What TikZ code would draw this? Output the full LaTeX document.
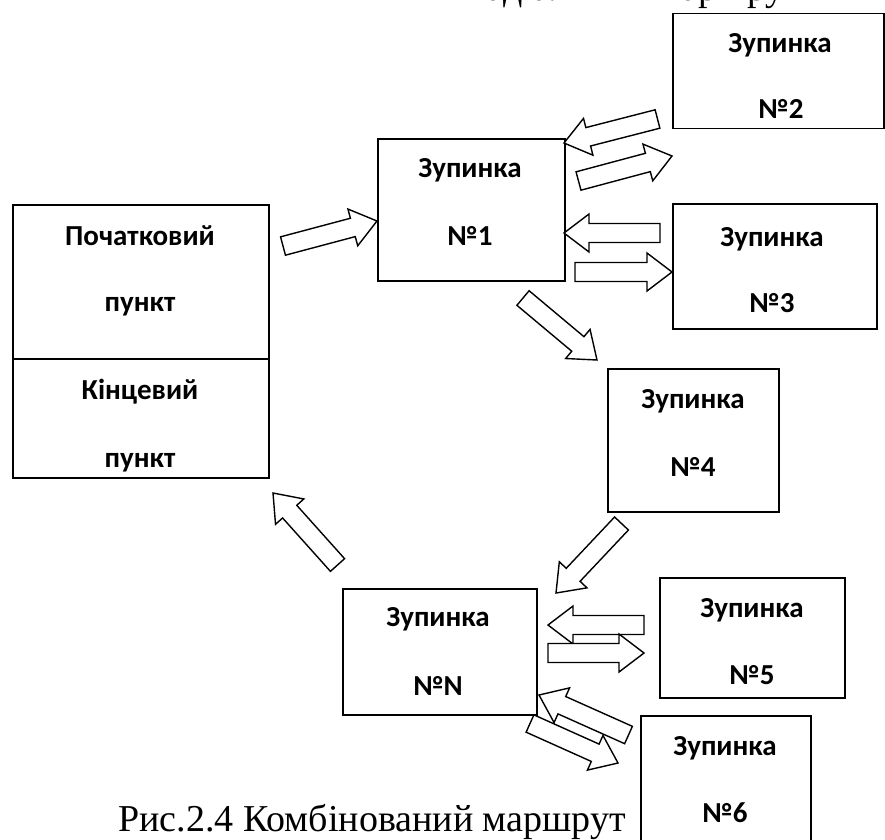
\documentclass[tikz,border=0pt]{standalone}
\usepackage{fontspec}
\setmainfont{Liberation Serif}
\newfontfamily\boxfont{Carlito}
\usetikzlibrary{calc}
\tikzset{
  stopbox/.style={draw, line width=1.6pt, fill=white, inner sep=0pt, anchor=north west},
  lbl/.style={font=\boxfont\bfseries\fontsize{29}{32}\selectfont, anchor=base, inner sep=0pt},
  captxt/.style={font=\fontsize{38}{42}\selectfont, anchor=base west, inner sep=0pt},
  barrowline/.style={draw, line width=1.4pt, fill=white, line join=miter},
}
\newcommand\blockarrow[2]{%
  \coordinate (hb) at ($(#2)!25pt!(#1)$);
  \draw[barrowline] ($(#1)!9.5pt!90:(#2)$) -- ($(hb)!9.5pt!-90:(#1)$) -- ($(hb)!19pt!-90:(#1)$)
    -- (#2) -- ($(hb)!19pt!90:(#1)$) -- ($(hb)!9.5pt!90:(#1)$) -- ($(#1)!9.5pt!-90:(#2)$) -- cycle;
}
\begin{document}
\begin{tikzpicture}[x=1pt,y=-1pt]
\useasboundingbox (0,0) rectangle (885,839);
\begin{scope}
\clip (0,0) rectangle (885,839);
% cut-off line above (only its lowest parts are visible)
\node[captxt, anchor=base east] (preva) at (648.5,0) {Радіальний};
\node[captxt] (prevb) at (658,0) {маршрут};
% boxes
\node[stopbox, minimum width=256pt, minimum height=154pt] (st) at (12,204) {};
\node[stopbox, minimum width=256pt, minimum height=119pt] (en) at (12,358) {};
\node[stopbox, minimum width=187pt, minimum height=142pt] (s1) at (377,138) {};
\node[stopbox, minimum width=211pt, minimum height=115pt] (s2) at (672,12.5) {};
\node[stopbox, minimum width=204pt, minimum height=125pt] (s3) at (672,203) {};
\node[stopbox, minimum width=171pt, minimum height=143pt] (s4) at (607,368) {};
\node[stopbox, minimum width=185pt, minimum height=120pt] (s5) at (659,577) {};
\node[stopbox, minimum width=170pt, minimum height=140pt] (s6) at (640,715) {};
\node[stopbox, minimum width=194pt, minimum height=126pt] (sN) at (342,588) {};
% labels
\node[lbl] (sta) at (140,245) {Початковий};
\node[lbl] (stb) at (140,311) {пункт};
\node[lbl] (ena) at (140,399) {Кінцевий};
\node[lbl] (enb) at (140,467) {пункт};
\node[lbl] (s1a) at (470,177) {Зупинка};
\node[lbl] (s1b) at (470,245) {№1};
\node[lbl] (s2a) at (780,52) {Зупинка};
\node[lbl] (s2b) at (781,118) {№2};
\node[lbl] (s3a) at (772,246) {Зупинка};
\node[lbl] (s3b) at (772,312) {№3};
\node[lbl] (s4a) at (693,408) {Зупинка};
\node[lbl] (s4b) at (693,476) {№4};
\node[lbl] (s5a) at (752,617) {Зупинка};
\node[lbl] (s5b) at (752,684) {№5};
\node[lbl] (s6a) at (725,755) {Зупинка};
\node[lbl] (s6b) at (725,822) {№6};
\node[lbl] (sNa) at (438,626) {Зупинка};
\node[lbl] (sNb) at (438,695) {№N};
% arrow end points
\coordinate (a1t) at (283,246);   \coordinate (a1h) at (377,221);
\coordinate (a2t) at (578.5,181); \coordinate (a2h) at (672,156);
\coordinate (a3t) at (657.5,119); \coordinate (a3h) at (564,143);
\coordinate (a4t) at (660,233);   \coordinate (a4h) at (564,233);
\coordinate (a5t) at (575,272);   \coordinate (a5h) at (672,272);
\coordinate (a6t) at (523,298);   \coordinate (a6h) at (597,360);
\coordinate (a7t) at (621.5,523.5); \coordinate (a7h) at (556,593);
\coordinate (a8t) at (337.5,565); \coordinate (a8h) at (273,493);
\coordinate (a9t) at (644,625);   \coordinate (a9h) at (548,625);
\coordinate (a10t) at (548,653);  \coordinate (a10h) at (644,653);
\coordinate (a11t) at (530,723.5); \coordinate (a11h) at (618,763);
\coordinate (a12t) at (628.5,735); \coordinate (a12h) at (539,695);
\blockarrow{a1t}{a1h}
\blockarrow{a2t}{a2h}
\blockarrow{a3t}{a3h}
\blockarrow{a4t}{a4h}
\blockarrow{a5t}{a5h}
\blockarrow{a6t}{a6h}
\blockarrow{a7t}{a7h}
\blockarrow{a8t}{a8h}
\blockarrow{a9t}{a9h}
\blockarrow{a10t}{a10h}
\blockarrow{a11t}{a11h}
\blockarrow{a12t}{a12h}
% caption
\node[captxt] (fig) at (118,831) {Рис.2.4 Комбінований маршрут};
\end{scope}
\end{tikzpicture}
\end{document}
